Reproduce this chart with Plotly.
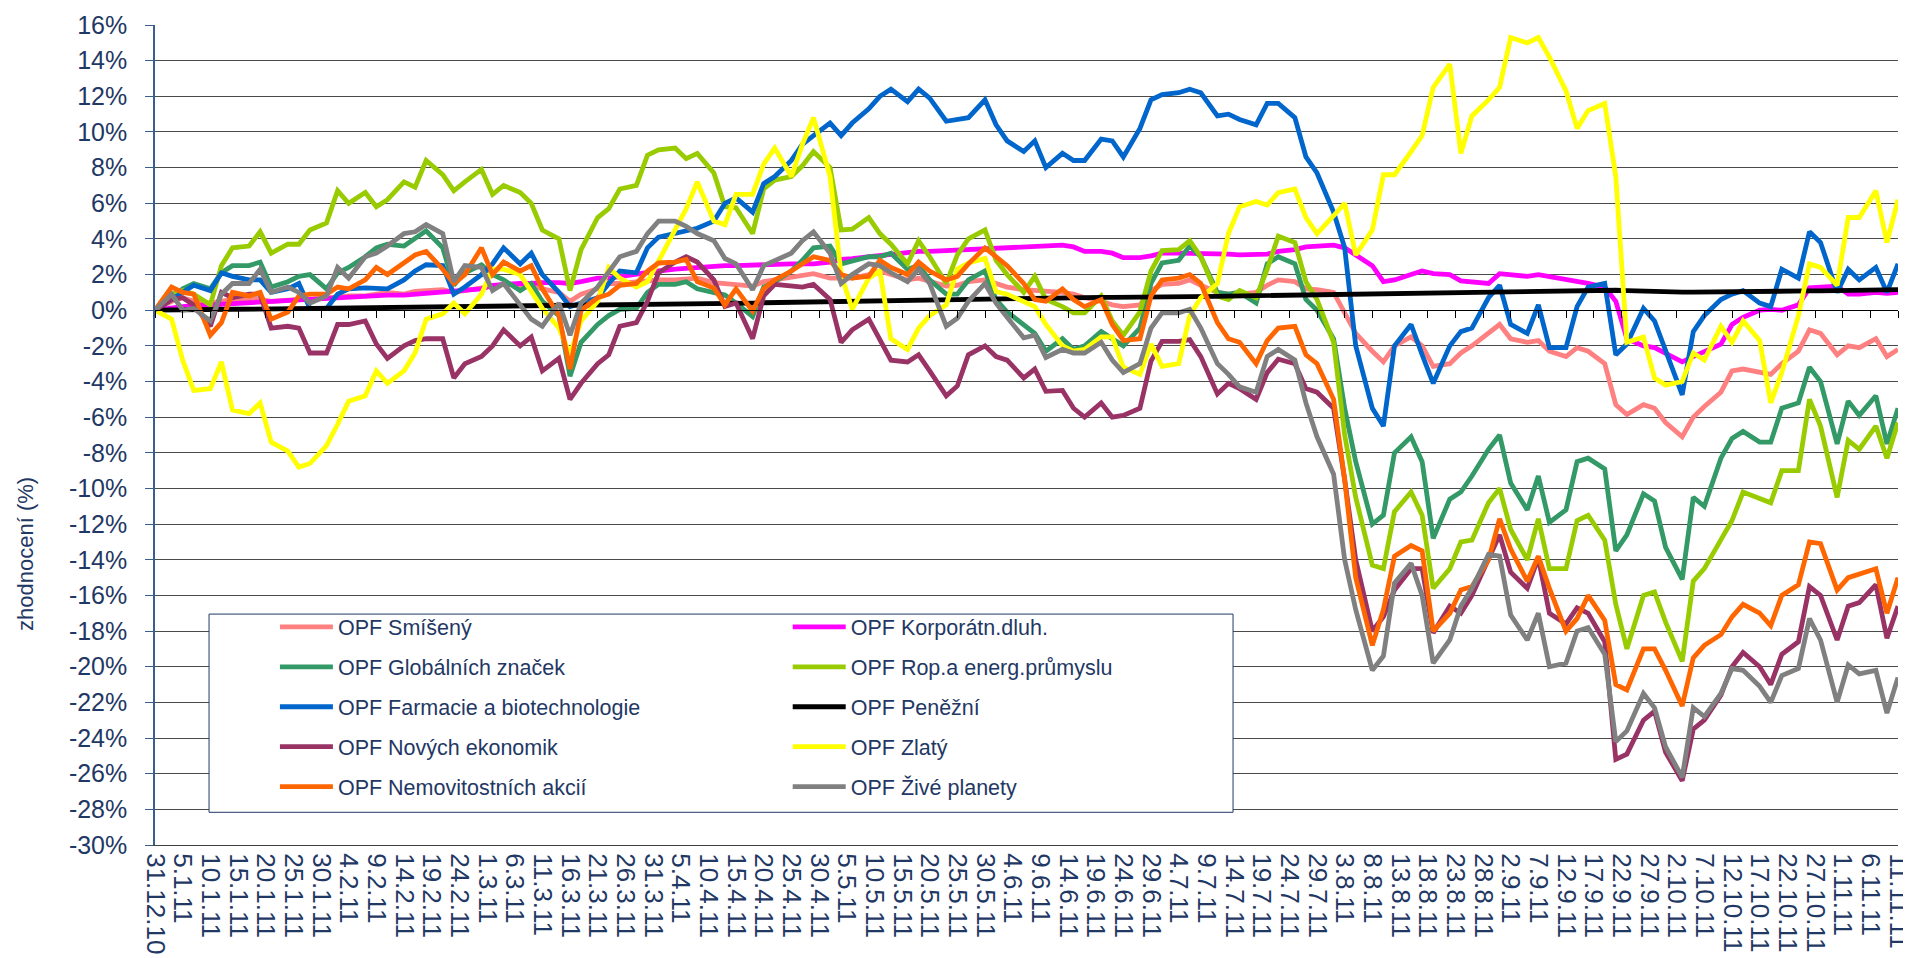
import plotly.graph_objects as go
import pandas as pd

dates = [
    "2010-12-31",
    "2011-01-03", "2011-01-05", "2011-01-07",
    "2011-01-10", "2011-01-12", "2011-01-14",
    "2011-01-17", "2011-01-19", "2011-01-21",
    "2011-01-24", "2011-01-26", "2011-01-28",
    "2011-01-31", "2011-02-02", "2011-02-04",
    "2011-02-07", "2011-02-09", "2011-02-11",
    "2011-02-14", "2011-02-16", "2011-02-18",
    "2011-02-21", "2011-02-23", "2011-02-25",
    "2011-02-28", "2011-03-02", "2011-03-04",
    "2011-03-07", "2011-03-09", "2011-03-11",
    "2011-03-14", "2011-03-16", "2011-03-18",
    "2011-03-21", "2011-03-23", "2011-03-25",
    "2011-03-28", "2011-03-30", "2011-04-01",
    "2011-04-04", "2011-04-06", "2011-04-08",
    "2011-04-11", "2011-04-13", "2011-04-15",
    "2011-04-18", "2011-04-20", "2011-04-22",
    "2011-04-25", "2011-04-27", "2011-04-29",
    "2011-05-02", "2011-05-04", "2011-05-06",
    "2011-05-09", "2011-05-11", "2011-05-13",
    "2011-05-16", "2011-05-18", "2011-05-20",
    "2011-05-23", "2011-05-25", "2011-05-27",
    "2011-05-30", "2011-06-01", "2011-06-03",
    "2011-06-06", "2011-06-08", "2011-06-10",
    "2011-06-13", "2011-06-15", "2011-06-17",
    "2011-06-20", "2011-06-22", "2011-06-24",
    "2011-06-27", "2011-06-29", "2011-07-01",
    "2011-07-04", "2011-07-06", "2011-07-08",
    "2011-07-11", "2011-07-13", "2011-07-15",
    "2011-07-18", "2011-07-20", "2011-07-22",
    "2011-07-25", "2011-07-27", "2011-07-29",
    "2011-08-01", "2011-08-03", "2011-08-05",
    "2011-08-08", "2011-08-10", "2011-08-12",
    "2011-08-15", "2011-08-17", "2011-08-19",
    "2011-08-22", "2011-08-24", "2011-08-26",
    "2011-08-29", "2011-08-31", "2011-09-02",
    "2011-09-05", "2011-09-07", "2011-09-09",
    "2011-09-12", "2011-09-14", "2011-09-16",
    "2011-09-19", "2011-09-21", "2011-09-23",
    "2011-09-26", "2011-09-28", "2011-09-30",
    "2011-10-03", "2011-10-05", "2011-10-07",
    "2011-10-10", "2011-10-12", "2011-10-14",
    "2011-10-17", "2011-10-19", "2011-10-21",
    "2011-10-24", "2011-10-26", "2011-10-28",
    "2011-10-31", "2011-11-02", "2011-11-04",
    "2011-11-07", "2011-11-09", "2011-11-11",
]

smiseny = [
    0,
    0.5, 0.7, 0.5, 0.4, 0.5, 0.6, 0.6, 0.6, 0.5, 0.6, 0.6, 0.6,
    0.7, 0.8, 0.8, 0.8, 0.9, 1.0, 0.9, 1.05, 1.1, 1.15, 1.0, 1.1,
    1.3, 1.4, 1.45, 1.4, 1.4, 1.2, 1.0, 0.5, 0.9, 1.2, 1.5, 1.5,
    1.6, 1.6, 1.7, 1.7, 1.75, 1.8, 1.55, 1.5, 1.45, 1.35, 1.6, 1.7,
    1.9, 2.0, 2.05, 1.8, 1.8, 1.8, 2.0, 2.2, 2.0, 1.7, 1.8, 1.6,
    1.35, 1.4, 1.6, 1.7, 1.5, 1.3, 1.15, 1.1, 1.1, 1.0, 0.9, 0.7,
    0.5, 0.3, 0.2, 0.3, 1.1, 1.45, 1.5, 1.7, 1.4, 1.0, 0.9, 0.9,
    1.0, 1.4, 1.7, 1.6, 1.2, 1.15, 1.0, -0.2, -1.3, -2.3, -2.9, -2.0,
    -1.5, -2.0, -3.15, -3.0, -2.4, -2.0, -1.3, -0.8, -1.6, -1.8, -1.7, -2.3,
    -2.6, -2.1, -2.3, -3.0, -5.3, -5.85, -5.3, -5.5, -6.3, -7.1, -6.0, -5.4,
    -4.6, -3.4, -3.3, -3.5, -3.6, -3.0, -2.3, -1.1, -1.3, -2.5, -2.0, -2.1,
    -1.6, -2.6, -2.2,
]

korporatni = [
    0,
    0.15, 0.2, 0.25, 0.3, 0.35, 0.4, 0.45, 0.5, 0.5, 0.55, 0.6, 0.6,
    0.65, 0.7, 0.7, 0.75, 0.8, 0.85, 0.85, 0.9, 0.95, 1.05, 1.05, 1.1,
    1.2, 1.4, 1.45, 1.5, 1.5, 1.55, 1.55, 1.5, 1.6, 1.8, 1.8, 1.9,
    2.0, 2.1, 2.2, 2.3, 2.35, 2.4, 2.5, 2.5, 2.5, 2.55, 2.55, 2.55,
    2.6, 2.6, 2.6, 2.7, 2.85, 2.9, 3.0, 3.1, 3.2, 3.3, 3.3, 3.3,
    3.35, 3.4, 3.4, 3.45, 3.45, 3.5, 3.55, 3.6, 3.6, 3.65, 3.55, 3.3,
    3.3, 3.2, 2.95, 2.95, 3.05, 3.2, 3.2, 3.2, 3.2, 3.15, 3.15, 3.1,
    3.1, 3.15, 3.3, 3.4, 3.55, 3.6, 3.65, 3.5, 3.1, 2.5, 1.6, 1.7,
    2.0, 2.2, 2.05, 2.0, 1.65, 1.6, 1.5, 2.05, 2.0, 1.9, 2.0, 1.9,
    1.7, 1.65, 1.5, 1.3, 0.5, -1.6, -2.0, -2.1, -2.4, -2.9, -2.6, -2.3,
    -1.9, -0.8, -0.4, 0.0, 0.05, 0.0, 0.3, 1.25, 1.3, 1.35, 0.9, 0.9,
    1.0, 0.95, 1.0,
]

globalnich = [
    0,
    0.7, 1.2, 1.5, 1.2, 2.1, 2.5, 2.5, 2.7, 1.3, 1.6, 1.9, 2.0,
    1.2, 2.1, 2.4, 3.0, 3.5, 3.7, 3.6, 4.0, 4.45, 3.5, 1.4, 2.1,
    2.55, 2.0, 1.7, 1.1, 1.5, 0.5, -0.3, -3.7, -1.8, -0.8, -0.3, 0.05,
    0.1, 1.0, 1.45, 1.45, 1.6, 1.2, 1.0, 0.85, 0.4, -0.35, 1.3, 1.6,
    2.2, 2.8, 3.5, 3.6, 2.6, 2.75, 3.0, 3.0, 3.2, 2.3, 2.5, 1.7,
    0.9, 0.9, 1.7, 2.2, 0.6, -0.1, -0.8, -1.3, -2.3, -1.6, -2.2, -2.0,
    -1.2, -1.6, -2.0, -1.0, 1.5, 2.65, 2.8, 3.6, 3.0, 1.0, 0.9, 1.0,
    0.4, 2.6, 3.0, 2.6, 0.6, 0.0, -1.6, -5.5, -8.5, -12.0, -11.5, -8.0,
    -7.1, -8.5, -12.8, -10.6, -10.2, -9.3, -7.8, -7.0, -9.7, -11.2, -9.3, -11.9,
    -11.2, -8.5, -8.3, -8.9, -13.5, -12.6, -10.3, -10.7, -13.3, -15.1, -10.5, -11.0,
    -8.3, -7.2, -6.8, -7.4, -7.4, -5.5, -5.2, -3.2, -4.0, -7.5, -5.1, -5.9,
    -4.8, -7.5, -5.5,
]

ropa = [
    0,
    0.9, 1.1, 0.9, 0.3, 2.5, 3.5, 3.6, 4.4, 3.2, 3.7, 3.7, 4.5,
    4.9, 6.7, 6.0, 6.6, 5.8, 6.2, 7.2, 6.9, 8.4, 7.6, 6.7, 7.2,
    7.9, 6.5, 7.0, 6.6, 6.0, 4.5, 4.0, 1.1, 3.4, 5.2, 5.7, 6.8,
    7.0, 8.7, 9.0, 9.1, 8.5, 8.8, 7.7, 5.8, 5.75, 4.3, 6.8, 7.3,
    7.5, 8.1, 8.9, 8.0, 4.5, 4.55, 5.2, 4.3, 3.7, 2.6, 3.9, 3.0,
    1.5, 3.1, 4.0, 4.5, 2.8, 2.0, 1.0, 1.9, 0.6, 0.2, -0.15, -0.15,
    0.8, -0.6, -1.4, -0.1, 2.2, 3.35, 3.4, 3.9, 3.0, 0.8, 0.6, 1.1,
    0.7, 2.3, 4.15, 3.8, 1.6, 0.6, -1.8, -7.0, -10.5, -14.3, -14.5, -11.3,
    -10.2, -11.5, -15.6, -14.5, -13.0, -12.9, -10.8, -10.0, -12.3, -14.0, -11.7, -14.5,
    -14.5, -11.8, -11.5, -12.9, -16.5, -19.0, -16.0, -15.8, -17.5, -19.7, -15.2, -14.5,
    -12.9, -11.8, -10.2, -10.6, -10.8, -9.0, -9.0, -5.0, -6.5, -10.5, -7.3, -7.8,
    -6.5, -8.3, -6.3,
]

farmacie = [
    0,
    0.6, 1.0, 1.4, 1.1, 2.1, 1.9, 1.7, 1.7, 1.0, 1.2, 1.5, 0.1,
    0.1, 0.9, 1.2, 1.25, 1.2, 1.2, 1.7, 2.2, 2.55, 2.5, 0.9, 1.3,
    2.0, 2.6, 3.5, 2.6, 3.2, 2.0, 1.0, 0.2, 0.4, 0.7, 1.5, 2.2,
    2.1, 3.5, 4.1, 4.3, 4.4, 4.6, 5.0, 6.0, 6.3, 5.5, 7.1, 7.5,
    8.4, 9.3, 9.8, 10.5, 9.8, 10.5, 11.3, 12.0, 12.4, 11.7, 12.4, 11.9,
    10.6, 10.7, 10.8, 11.8, 10.4, 9.5, 8.9, 9.5, 8.0, 8.8, 8.4, 8.4,
    9.6, 9.5, 8.6, 10.2, 11.8, 12.1, 12.2, 12.4, 12.2, 10.9, 11.0, 10.7,
    10.4, 11.6, 11.6, 10.8, 8.6, 7.7, 5.5, 3.5, -2.0, -5.5, -6.5, -2.0,
    -0.8, -2.5, -4.1, -2.0, -1.2, -1.0, 0.7, 1.4, -0.8, -1.3, 0.3, -2.1,
    -2.1, 0.2, 1.3, 1.5, -2.5, -1.9, 0.1, -0.6, -2.2, -4.75, -1.2, -0.3,
    0.6, 0.9, 1.1, 0.4, 0.2, 2.3, 1.8, 4.4, 3.8, 1.0, 2.3, 1.7,
    2.4, 1.0, 2.6,
]

penezni = [
    0.0,
    0.01, 0.02, 0.03, 0.03, 0.04, 0.05, 0.05, 0.06, 0.07, 0.07, 0.08, 0.09,
    0.09, 0.1, 0.1, 0.11, 0.12, 0.12, 0.13, 0.14, 0.15, 0.16, 0.17, 0.17,
    0.18, 0.19, 0.2, 0.2, 0.21, 0.22, 0.23, 0.24, 0.25, 0.26, 0.27, 0.28,
    0.3, 0.31, 0.32, 0.33, 0.34, 0.35, 0.36, 0.38, 0.39, 0.4, 0.42, 0.43,
    0.44, 0.46, 0.47, 0.48, 0.5, 0.51, 0.53, 0.55, 0.57, 0.6, 0.62, 0.63,
    0.64, 0.65, 0.66, 0.67, 0.68, 0.69, 0.7, 0.7, 0.71, 0.71, 0.71, 0.72,
    0.72, 0.72, 0.72, 0.73, 0.73, 0.74, 0.75, 0.76, 0.77, 0.78, 0.79, 0.8,
    0.81, 0.82, 0.83, 0.84, 0.85, 0.86, 0.87, 0.88, 0.89, 0.9, 0.9, 0.91,
    0.93, 0.95, 0.97, 0.99, 1.0, 1.02, 1.03, 1.05, 1.07, 1.09, 1.1, 1.11,
    1.12, 1.13, 1.13, 1.13, 1.12, 1.1, 1.06, 1.04, 1.03, 1.02, 1.02, 1.02,
    1.03, 1.03, 1.04, 1.04, 1.05, 1.06, 1.07, 1.08, 1.09, 1.1, 1.1, 1.11,
    1.12, 1.13, 1.15,
]

novych = [
    0,
    0.6, 0.7, 0.3, -0.9, 1.0, 0.7, 0.9, 0.9, -1.0, -0.9, -1.0, -2.4,
    -2.4, -0.8, -0.8, -0.6, -1.9, -2.7, -2.0, -1.7, -1.6, -1.6, -3.8, -3.0,
    -2.6, -2.0, -1.1, -2.0, -1.5, -3.4, -2.7, -5.0, -4.1, -3.0, -2.5, -0.9,
    -0.7, 0.5, 2.1, 2.7, 3.0, 2.7, 1.7, 0.2, 0.4, -1.6, 0.8, 1.45,
    1.4, 1.3, 1.45, 0.6, -1.8, -1.1, -0.5, -1.6, -2.8, -2.9, -2.5, -3.4,
    -4.8, -4.25, -2.5, -2.0, -2.6, -2.8, -3.8, -3.3, -4.55, -4.5, -5.5, -6.0,
    -5.2, -6.0, -5.9, -5.5, -2.85, -1.75, -1.75, -1.65, -2.6, -4.7, -4.1, -4.4,
    -5.0, -3.5, -2.75, -3.0, -4.4, -4.6, -5.5, -9.5, -14.0, -18.0, -17.2, -15.7,
    -14.5, -14.5, -18.1, -16.6, -17.0, -16.0, -14.0, -12.6, -14.7, -15.6, -13.9, -17.0,
    -17.6, -16.7, -17.0, -18.6, -25.2, -24.9, -23.0, -22.5, -24.8, -26.4, -23.5, -23.0,
    -21.6, -20.0, -19.2, -20.0, -21.0, -19.3, -18.6, -15.5, -16.0, -18.5, -16.6, -16.4,
    -15.4, -18.4, -16.6,
]

zlaty = [
    0,
    -0.5, -2.8, -4.5, -4.4, -2.9, -5.6, -5.8, -5.2, -7.4, -7.9, -8.8, -8.6,
    -7.6, -6.4, -5.1, -4.8, -3.4, -4.1, -3.4, -2.4, -0.5, -0.2, 0.4, -0.2,
    0.9, 2.3, 2.3, 2.0, 1.0, 0.1, -1.0, -2.5, -0.6, 0.5, 2.4, 1.8,
    1.3, 1.6, 2.75, 4.5, 5.7, 7.2, 5.0, 4.8, 6.5, 6.5, 8.2, 9.1,
    7.5, 9.3, 10.8, 7.5, 2.0, 0.05, 1.8, 2.2, -1.6, -2.2, -1.0, -0.3,
    0.3, 2.3, 2.65, 2.9, 1.05, 0.9, 0.5, 0.2, -0.8, -2.0, -2.3, -2.2,
    -1.5, -1.5, -3.2, -3.6, -1.9, -3.15, -3.0, -0.3, 0.7, 1.5, 4.3, 5.8,
    6.1, 5.9, 6.6, 6.8, 5.2, 4.3, 5.3, 6.0, 3.1, 4.5, 7.6, 7.6,
    8.9, 9.8, 12.5, 13.8, 8.8, 10.9, 11.8, 12.5, 15.3, 15.0, 15.3, 14.2,
    12.3, 10.2, 11.2, 11.6, 7.5, -1.8, -1.5, -3.8, -4.2, -4.0, -2.4, -2.8,
    -0.9, -1.8, -0.6, -1.7, -5.2, -3.5, -0.3, 2.6, 2.4, 1.4, 5.2, 5.2,
    6.7, 3.8, 6.2,
]

nemovitostnich = [
    0,
    1.3, 1.0, 0.9, -1.4, -0.7, 1.0, 0.8, 1.0, -0.5, -0.1, 0.8, 0.9,
    0.9, 1.3, 1.2, 1.7, 2.4, 2.0, 2.7, 3.1, 3.3, 2.3, 1.5, 2.0,
    3.5, 2.0, 2.7, 2.2, 2.5, 1.2, -0.3, -3.3, 0.0, 0.7, 0.9, 1.4,
    1.5, 2.2, 2.65, 2.7, 2.85, 1.6, 1.25, 0.3, 1.2, -0.05, 1.2, 1.7,
    2.2, 2.6, 3.0, 2.8, 2.0, 1.8, 1.9, 2.8, 2.4, 2.0, 2.7, 2.2,
    1.7, 1.9, 2.6, 3.5, 3.0, 2.5, 1.5, 0.6, 0.5, 1.2, 0.6, 0.2,
    0.6, -0.8, -1.7, -1.6, 0.8, 1.7, 1.8, 2.0, 1.5, -0.7, -1.6, -1.8,
    -3.0, -1.7, -1.0, -0.9, -2.5, -3.0, -5.0, -9.5, -15.0, -18.8, -16.8, -13.8,
    -13.2, -13.5, -18.0, -17.0, -15.7, -15.5, -14.0, -11.7, -13.4, -15.2, -13.8, -15.6,
    -18.0, -17.3, -16.0, -17.4, -21.0, -21.3, -19.0, -19.0, -20.2, -22.2, -19.5, -18.8,
    -18.2, -17.2, -16.5, -17.0, -17.7, -16.0, -15.4, -13.0, -13.1, -15.7, -15.0, -14.8,
    -14.5, -17.0, -15.0,
]

zive_planety = [
    0,
    0.9, 0.0, 0.1, -0.6, 0.9, 1.5, 1.5, 2.3, 1.0, 1.3, 1.0, 0.4,
    0.8, 2.4, 1.8, 3.0, 3.2, 3.6, 4.3, 4.4, 4.8, 4.3, 1.6, 2.5,
    2.4, 1.1, 1.5, 0.3, -0.5, -0.9, 0.4, -1.4, 0.4, 1.3, 2.2, 3.0,
    3.3, 4.3, 5.0, 5.0, 4.7, 4.3, 3.9, 2.9, 2.6, 1.15, 2.5, 2.8,
    3.2, 3.9, 4.4, 3.2, 1.5, 2.0, 2.6, 2.5, 2.1, 1.6, 2.3, 1.5,
    -0.9, -0.45, 0.5, 1.5, 0.4, -0.4, -1.55, -1.4, -2.65, -2.2, -2.4, -2.4,
    -1.8, -2.8, -3.5, -3.0, -1.0, -0.15, -0.15, 0.05, -1.0, -3.0, -3.6, -4.3,
    -4.6, -2.6, -2.2, -2.8, -5.2, -7.1, -9.2, -14.0, -16.8, -20.2, -19.4, -15.3,
    -14.2, -16.0, -19.8, -18.5, -16.6, -15.6, -13.7, -13.8, -17.1, -18.5, -17.0, -20.0,
    -19.8, -18.0, -17.8, -19.3, -24.2, -23.6, -21.5, -22.3, -24.5, -26.2, -22.3, -22.8,
    -21.5, -20.1, -20.2, -21.1, -22.0, -20.5, -20.1, -17.3, -18.5, -22.0, -19.9, -20.4,
    -20.2, -22.6, -20.6,
]

# (legend label, values, colour, legend column) in Excel series order
series = [
    ("OPF Smíšený", smiseny, "#FF8080", "legend"),
    ("OPF Korporátn.dluh.", korporatni, "#FF00FF", "legend2"),
    ("OPF Globálních značek", globalnich, "#339966", "legend"),
    ("OPF Rop.a energ.průmyslu", ropa, "#99CC00", "legend2"),
    ("OPF Farmacie a biotechnologie", farmacie, "#0066CC", "legend"),
    ("OPF Peněžní", penezni, "#000000", "legend2"),
    ("OPF Nových ekonomik", novych, "#993366", "legend"),
    ("OPF Zlatý", zlaty, "#FFFF00", "legend2"),
    ("OPF Nemovitostních akcií", nemovitostnich, "#FF6600", "legend"),
    ("OPF Živé planety", zive_planety, "#808080", "legend2"),
]

for _, vals, _, _ in series:
    assert len(vals) == len(dates), len(vals)

tick_dates = pd.date_range("2010-12-31", "2011-11-11", freq="5D")
x_tickvals = [d.strftime("%Y-%m-%d") for d in tick_dates]
x_ticktext = [f"{d.day}.{d.month}.{d.strftime('%y')}" for d in tick_dates]
y_tickvals = list(range(-30, 17, 2))
y_ticktext = [f"{v}%" for v in y_tickvals]

FONT = "Liberation Sans, Arial, sans-serif"
NAVY = "#1F3864"

fig = go.Figure()
for name, vals, color, leg in series:
    fig.add_trace(go.Scatter(
        x=dates, y=vals, name=name, mode="lines",
        line=dict(color=color, width=4.8),
        legend=leg, legendgroup=name,
    ))

# empty trace so the zero-line axis (with its tick marks) is drawn
fig.add_trace(go.Scatter(x=[], y=[], xaxis="x2", showlegend=False, hoverinfo="skip"))

Y0_PAPER = 30 / 46.0

legend_common = dict(
    xanchor="left", yanchor="top",
    bgcolor="rgba(0,0,0,0)", borderwidth=0,
    font=dict(size=21.5, color=NAVY, family=FONT),
    tracegroupgap=9, traceorder="grouped", itemwidth=53,
)

fig.update_layout(
    template="none",
    width=1911, height=958,
    margin=dict(l=147, r=21, t=17, b=121, autoexpand=False),
    paper_bgcolor="white", plot_bgcolor="white",
    font=dict(family=FONT, color=NAVY, size=21),
    hovermode=False,
    xaxis=dict(
        type="date", automargin=False,
        range=["2010-12-31", "2011-11-11"],
        tickmode="array", tickvals=x_tickvals, ticktext=x_ticktext,
        tickangle=90, tickfont=dict(size=26, color=NAVY, family=FONT),
        ticks="", showgrid=False, zeroline=False,
        showline=True, linecolor="#404040", linewidth=1,
        ticklabelstandoff=2,
    ),
    xaxis2=dict(
        type="date", overlaying="x", matches="x", automargin=False,
        anchor="free", position=Y0_PAPER, side="bottom",
        tickmode="array", tickvals=x_tickvals,
        showticklabels=False, ticks="outside", ticklen=7, tickcolor="#000000",
        tickwidth=1,
        showline=True, linecolor="#000000", linewidth=1,
        showgrid=False, zeroline=False,
    ),
    yaxis=dict(
        range=[-30, 16], automargin=False,
        tickmode="array", tickvals=y_tickvals, ticktext=y_ticktext,
        tickfont=dict(size=25, color=NAVY, family=FONT),
        ticks="outside", ticklen=8, tickcolor="#3A5F8F", tickwidth=1,
        showline=True, linecolor="#3A5F8F", linewidth=1.5,
        showgrid=True, gridcolor="#4A4A4A", gridwidth=1,
        zeroline=False, ticklabelstandoff=13,
    ),
    legend=dict(x=0.0688, y=0.291, **legend_common),
    legend2=dict(x=0.363, y=0.291, **legend_common),
    shapes=[dict(
        type="rect", xref="paper", yref="paper",
        x0=0.031, x1=0.6185, y0=0.0399, y1=0.2816,
        line=dict(color="#1F3864", width=1), fillcolor="white", layer="above",
    )],
    annotations=[dict(
        text="zhodnocení (%)", xref="paper", yref="paper",
        x=-0.074, y=0.355, textangle=-90, showarrow=False,
        xanchor="center", yanchor="middle",
        font=dict(size=22, color=NAVY, family=FONT),
    )],
)

fig.write_html("out.html")
